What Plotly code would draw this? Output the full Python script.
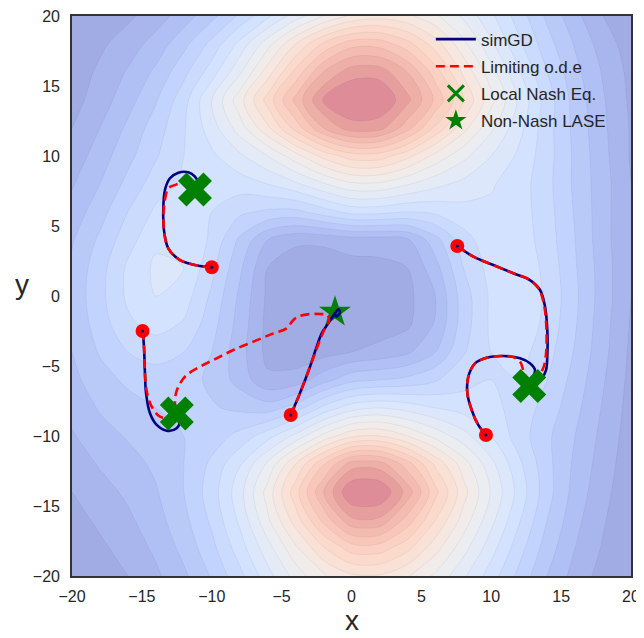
import plotly.graph_objects as go

# ---------------- contour field (levels) ----------------
grid_x = list(range(-20, 21, 2))
grid_y_top_down = list(range(20, -21, -2))
levels_top_down = [
    [0.0, 0.3, 0.8, 1.5, 2.5, 3.7, 5.2, 6.8, 8.5, 10.0, 11.2, 11.6, 11.2, 10.2, 8.8, 7.2, 5.5, 3.8, 2.3, 1.0, 0.2],
    [0.2, 0.8, 1.5, 2.4, 3.7, 5.3, 7.3, 9.6, 12.0, 14.2, 15.6, 15.6, 14.4, 12.5, 10.3, 8.2, 6.2, 4.4, 2.9, 1.5, 0.5],
    [0.4, 1.2, 2.1, 3.2, 4.7, 6.5, 8.8, 11.5, 14.3, 17.0, 18.6, 18.6, 17.0, 14.5, 11.8, 9.4, 7.1, 5.0, 3.3, 1.9, 0.7],
    [0.6, 1.5, 2.6, 3.9, 5.6, 8.0, 10.6, 13.4, 16.3, 19.1, 20.0, 20.0, 18.3, 15.8, 13.0, 10.3, 7.8, 5.5, 3.6, 2.1, 0.8],
    [1.0, 2.0, 3.2, 4.5, 5.9, 7.5, 9.5, 11.8, 14.4, 17.0, 18.6, 18.4, 16.4, 13.8, 11.4, 9.2, 7.3, 5.4, 3.7, 2.2, 0.9],
    [1.4, 2.5, 3.7, 4.9, 6.0, 6.8, 7.8, 9.0, 10.6, 12.3, 13.5, 13.5, 12.3, 10.7, 9.3, 8.0, 6.8, 5.4, 3.8, 2.3, 0.9],
    [1.9, 3.0, 4.3, 5.5, 6.2, 6.3, 6.5, 7.0, 7.8, 8.9, 9.8, 9.8, 9.1, 8.3, 7.7, 7.1, 6.5, 5.3, 3.8, 2.4, 1.0],
    [2.4, 3.6, 5.0, 6.2, 6.6, 6.0, 5.2, 4.8, 4.7, 5.5, 6.3, 6.3, 6.0, 6.2, 6.6, 6.8, 6.5, 5.4, 3.9, 2.4, 1.0],
    [2.9, 4.2, 5.6, 6.8, 7.0, 5.8, 3.8, 2.0, 1.2, 1.2, 1.5, 1.5, 1.8, 3.6, 5.6, 6.6, 6.6, 5.5, 4.0, 2.4, 1.0],
    [3.2, 4.6, 6.2, 7.2, 7.0, 5.3, 3.2, 1.0, 0.4, 0.4, 0.6, 0.7, 1.0, 2.6, 5.0, 6.4, 6.8, 5.7, 4.1, 2.5, 1.0],
    [3.3, 4.7, 6.2, 7.0, 6.5, 4.8, 2.8, 0.8, 0.2, 0.2, 0.3, 0.4, 0.7, 2.0, 4.5, 6.2, 6.9, 5.8, 4.2, 2.5, 1.0],
    [3.2, 4.5, 5.8, 6.4, 5.9, 4.4, 2.6, 0.7, 0.2, 0.2, 0.3, 0.5, 0.8, 2.1, 4.5, 6.2, 6.8, 5.7, 4.1, 2.4, 0.9],
    [3.0, 4.1, 5.0, 5.4, 5.0, 4.0, 2.4, 0.7, 0.4, 0.6, 1.0, 1.3, 1.8, 3.0, 4.9, 6.0, 6.4, 5.4, 3.9, 2.3, 0.8],
    [2.7, 3.6, 4.2, 4.5, 4.4, 3.8, 2.6, 1.2, 1.4, 2.6, 3.7, 4.0, 4.3, 4.9, 5.6, 6.0, 6.0, 5.0, 3.6, 2.1, 0.7],
    [2.3, 3.1, 3.6, 4.0, 4.2, 4.1, 3.8, 3.5, 4.5, 6.3, 7.6, 8.0, 7.6, 7.0, 6.6, 6.3, 5.6, 4.6, 3.3, 1.9, 0.6],
    [1.9, 2.6, 3.1, 3.6, 4.0, 4.5, 5.3, 6.6, 8.3, 10.3, 11.8, 12.0, 11.0, 9.7, 8.4, 7.0, 5.5, 4.2, 3.0, 1.7, 0.5],
    [1.4, 2.1, 2.6, 3.2, 4.0, 5.2, 6.9, 9.2, 12.0, 14.9, 17.5, 17.5, 15.5, 12.8, 10.5, 8.3, 6.2, 4.3, 2.8, 1.5, 0.4],
    [1.0, 1.6, 2.2, 2.9, 4.0, 5.5, 7.6, 10.4, 13.6, 17.0, 20.0, 20.0, 17.6, 14.3, 11.4, 8.9, 6.6, 4.4, 2.6, 1.3, 0.3],
    [0.6, 1.2, 1.8, 2.6, 3.7, 5.2, 7.2, 9.8, 12.5, 15.3, 17.8, 17.8, 15.6, 13.0, 10.6, 8.3, 6.1, 4.0, 2.3, 1.1, 0.2],
    [0.3, 0.8, 1.4, 2.2, 3.3, 4.7, 6.5, 8.6, 10.8, 12.9, 14.5, 14.5, 13.3, 11.4, 9.4, 7.4, 5.4, 3.5, 2.0, 0.9, 0.1],
    [0.0, 0.4, 1.0, 1.8, 2.8, 4.1, 5.7, 7.6, 9.4, 10.9, 11.8, 11.9, 11.1, 9.8, 8.2, 6.5, 4.7, 3.0, 1.6, 0.6, 0.0],
]

# ---------------- trajectories ----------------
x1_gd = [-10.0, -10.84, -12.27, -13.11, -13.42, -13.47, -13.35, -12.99, -12.39, -11.68, -11.2, -11.0, -11.2]
y1_gd = [2.05, 2.14, 2.57, 3.41, 4.71, 6.14, 7.57, 8.41, 8.81, 8.84, 8.52, 8.1, 7.6]
x1_ode = [-10.0, -10.84, -12.27, -13.11, -13.42, -13.45, -13.35, -13.11, -12.63, -12.04, -11.2]
y1_ode = [2.05, 2.14, 2.57, 3.41, 4.71, 5.9, 6.86, 7.69, 7.93, 8.05, 7.6]

x2_gd = [-14.95, -14.85, -14.78, -14.7, -14.42, -13.94, -13.22, -12.51, -12.3, -12.5]
y2_gd = [-2.5, -3.62, -5.52, -6.95, -8.38, -9.21, -9.62, -9.45, -9.0, -8.4]
x2_ode = [-14.95, -14.85, -14.78, -14.65, -14.3, -13.7, -13.1, -12.5]
y2_ode = [-2.5, -3.62, -5.52, -6.8, -7.9, -8.62, -8.7, -8.4]

x3_gd = [-4.35, -3.69, -2.97, -2.49, -2.13, -1.66, -1.18, -0.94, -0.82, -1.11, -1.18]
y3_gd = [-8.5, -6.95, -5.05, -3.62, -2.67, -1.95, -1.24, -0.95, -1.19, -1.48, -1.14]
x3_ode = [-4.35, -3.69, -2.97, -2.25, -1.9, -1.6, -1.75, -2.25, -2.97, -3.69, -4.16, -4.64,
          -5.59, -7.02, -8.46, -9.65, -10.84, -11.79, -12.27, -12.56, -12.63, -12.5]
y3_ode = [-8.5, -6.95, -5.05, -3.14, -2.31, -1.75, -1.35, -1.29, -1.29, -1.43, -1.71, -2.31,
          -2.67, -3.26, -3.86, -4.45, -5.05, -5.64, -6.24, -6.95, -7.67, -8.4]

x4_gd = [7.57, 8.72, 10.15, 11.58, 12.77, 13.49, 13.85, 14.01, 14.01, 13.92, 13.61, 12.72]
y4_gd = [3.57, 2.81, 2.21, 1.62, 1.14, 0.43, -0.76, -2.43, -4.33, -5.29, -5.88, -6.43]
x4_ode = [7.57, 8.72, 10.15, 11.58, 12.77, 13.45, 13.8, 13.95, 13.9, 13.7, 13.3, 12.72]
y4_ode = [3.57, 2.81, 2.21, 1.62, 1.14, 0.43, -0.76, -2.43, -4.33, -5.2, -5.8, -6.43]

x5_gd = [9.62, 9.07, 8.6, 8.29, 8.36, 8.84, 9.67, 10.86, 12.06, 12.77, 13.13, 13.0, 12.72]
y5_gd = [-9.93, -9.21, -8.14, -6.95, -5.76, -4.81, -4.41, -4.29, -4.45, -4.81, -5.29, -5.76, -6.43]
x5_ode = [9.62, 9.07, 8.6, 8.29, 8.36, 8.84, 9.67, 10.6, 11.46, 12.06, 12.29, 12.72]
y5_ode = [-9.93, -9.21, -8.14, -6.95, -5.76, -4.81, -4.41, -4.29, -4.33, -4.69, -5.29, -6.43]

nash_x = [-11.2, -12.5, 12.72]
nash_y = [7.6, -8.4, -6.43]
lase_x = [-1.18]
lase_y = [-1.14]

x_ticks = [-20, -15, -10, -5, 0, 5, 10, 15, 20]
y_ticks = [-20, -15, -10, -5, 0, 5, 10, 15, 20]

# coolwarm blended 50% with white
coolwarm_soft = [
    [0.0, "rgb(157,166,224)"], [0.1, "rgb(172,187,241)"], [0.2, "rgb(189,207,252)"],
    [0.3, "rgb(207,223,255)"], [0.4, "rgb(224,234,250)"], [0.5, "rgb(238,238,238)"],
    [0.6, "rgb(249,229,219)"], [0.7, "rgb(251,214,199)"], [0.8, "rgb(247,194,180)"],
    [0.9, "rgb(235,169,162)"], [1.0, "rgb(218,130,147)"],
]

GD_COLOR = "#000080"
ODE_COLOR = "#ff0000"
GREEN = "#008000"
FONT = "Liberation Sans, Arial, sans-serif"

fig = go.Figure()
fig.add_trace(go.Contour(
    x=grid_x, y=grid_y_top_down[::-1], z=levels_top_down[::-1],
    colorscale=coolwarm_soft, zmin=0, zmax=20, zauto=False,
    contours=dict(start=0, end=20, size=1, coloring="fill"),
    line=dict(width=0.6, color="rgba(60,60,140,0.12)", smoothing=0.9),
    showscale=False, hoverinfo="skip", showlegend=False,
))

gd = [(x1_gd, y1_gd), (x2_gd, y2_gd), (x3_gd, y3_gd), (x4_gd, y4_gd), (x5_gd, y5_gd)]
ode = [(x1_ode, y1_ode), (x2_ode, y2_ode), (x3_ode, y3_ode), (x4_ode, y4_ode), (x5_ode, y5_ode)]

fig.add_trace(go.Scatter(
    x=[p[0][0] for p in gd], y=[p[1][0] for p in gd], mode="markers",
    marker=dict(color=ODE_COLOR, size=14, line=dict(width=0)),
    showlegend=False, hoverinfo="skip"))

fig.add_trace(go.Scatter(
    x=lase_x, y=lase_y, mode="markers",
    marker=dict(symbol="star", color=GREEN, size=24, line=dict(width=0)),
    showlegend=False, hoverinfo="skip"))

for i, (xs, ys) in enumerate(gd):
    fig.add_trace(go.Scatter(
        x=xs, y=ys, mode="lines", line=dict(color=GD_COLOR, width=2.6, shape="spline", smoothing=1),
        name="simGD", legendgroup="gd", showlegend=(i == 0), legendrank=1, hoverinfo="skip"))
for i, (xs, ys) in enumerate(ode):
    fig.add_trace(go.Scatter(
        x=xs, y=ys, mode="lines",
        line=dict(color=ODE_COLOR, width=2.6, dash="9px,5px", shape="spline", smoothing=1),
        name="Limiting o.d.e", legendgroup="ode", showlegend=(i == 0), legendrank=2, hoverinfo="skip"))

fig.add_trace(go.Scatter(
    x=[p[0][0] for p in gd], y=[p[1][0] for p in gd], mode="markers",
    marker=dict(color=GD_COLOR, size=3), showlegend=False, hoverinfo="skip"))

fig.add_trace(go.Scatter(
    x=nash_x, y=nash_y, mode="markers",
    marker=dict(symbol="x", color=GREEN, size=30, line=dict(width=0)),
    showlegend=False, hoverinfo="skip"))

fig.add_trace(go.Scatter(
    x=[None], y=[None], mode="markers", name="Local Nash Eq.", legendrank=3,
    marker=dict(symbol="x-thin-open", color=GREEN, size=18, line=dict(width=3, color=GREEN))))
fig.add_trace(go.Scatter(
    x=[None], y=[None], mode="markers", name="Non-Nash LASE", legendrank=4,
    marker=dict(symbol="star", color=GREEN, size=22, line=dict(width=0))))

axis_common = dict(
    showgrid=False, zeroline=False, showline=True, linecolor="#333333", linewidth=1.6,
    mirror=True, ticks="outside", tickcolor="rgba(0,0,0,0)", automargin=False,
    ticklabeloverflow="allow",
    tickfont=dict(family=FONT, size=16, color="#262626"),
)
# the page body adds an 8px offset, so the figure is 8px smaller and margins shifted
fig.update_layout(
    template="none",
    width=636, height=630,
    margin=dict(l=64, r=13, t=8, b=62, autoexpand=False),
    plot_bgcolor="white", paper_bgcolor="white",
    xaxis=dict(range=[-20, 20], tickvals=x_ticks, ticklen=5, **axis_common),
    yaxis=dict(range=[-20, 20], tickvals=y_ticks, ticklen=7, **axis_common),
    legend=dict(
        x=0.642, y=0.99, xanchor="left", yanchor="top",
        bgcolor="rgba(0,0,0,0)", borderwidth=0,
        font=dict(family=FONT, size=17, color="#262626"),
        itemwidth=40, tracegroupgap=2,
    ),
    annotations=[
        dict(text="x", xref="paper", yref="paper", x=0.5, y=-0.0786, xanchor="center", yanchor="middle",
             showarrow=False, borderpad=0, font=dict(family=FONT, size=28, color="#262626")),
        dict(text="y", xref="paper", yref="paper", x=-0.089, y=0.52, xanchor="center", yanchor="middle",
             showarrow=False, borderpad=0, font=dict(family=FONT, size=28, color="#262626")),
    ],
)

fig.write_html("out.html")
